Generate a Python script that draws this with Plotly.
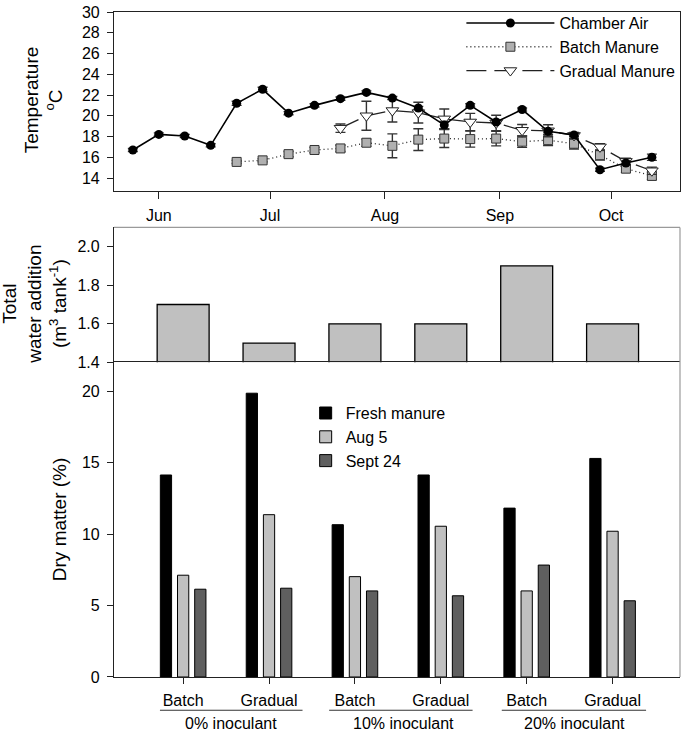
import plotly.graph_objects as go

# ---------------- data ----------------
chamber_dates = ["2009-05-25", "2009-06-01", "2009-06-08", "2009-06-15", "2009-06-22",
                 "2009-06-29", "2009-07-06", "2009-07-13", "2009-07-20", "2009-07-27",
                 "2009-08-03", "2009-08-10", "2009-08-17", "2009-08-24", "2009-08-31",
                 "2009-09-07", "2009-09-14", "2009-09-21", "2009-09-28", "2009-10-05",
                 "2009-10-12"]
chamber_air = [16.7, 18.2, 18.05, 17.15, 21.2, 22.55, 20.25, 21.0, 21.65, 22.25,
               21.7, 20.75, 19.1, 21.0, 19.4, 20.6, 18.5, 18.15, 14.8, 15.45, 16.0]
chamber_err = [0.15, 0.15, 0.15, 0.15, 0.2, 0.2, 0.15, 0.15, 0.15, 0.15,
               0.15, 0.15, 0.35, 0.15, 0.15, 0.15, 0.15, 0.15, 0.15, 0.2, 0.3]

batch_dates = ["2009-06-22", "2009-06-29", "2009-07-06", "2009-07-13", "2009-07-20",
               "2009-07-27", "2009-08-03", "2009-08-10", "2009-08-17", "2009-08-24",
               "2009-08-31", "2009-09-07", "2009-09-14", "2009-09-21", "2009-09-28",
               "2009-10-05", "2009-10-12"]
batch_manure = [15.55, 15.7, 16.3, 16.7, 16.85, 17.4, 17.1, 17.7, 17.8, 17.75,
                17.8, 17.5, 17.65, 17.3, 16.2, 14.9, 14.2]
batch_err = [0.15, 0.15, 0.25, 0.25, 0.3, 0.35, 1.15, 1.05, 0.86, 0.77,
             0.7, 0.55, 0.53, 0.5, 0.47, 0.36, 0.35]

gradual_dates = ["2009-07-20", "2009-07-27", "2009-08-03", "2009-08-10", "2009-08-17",
                 "2009-08-24", "2009-08-31", "2009-09-07", "2009-09-14", "2009-09-21",
                 "2009-09-28", "2009-10-05", "2009-10-12"]
gradual_manure = [18.8, 20.0, 20.5, 20.3, 19.7, 19.4, 19.3, 18.6, 18.55, 18.1,
                  17.0, 15.6, 14.7]
gradual_err = [0.4, 1.4, 1.1, 1.0, 0.95, 0.83, 0.75, 0.55, 0.58, 0.3, 0.3, 0.3, 0.35]

month_ticks = ["2009-06-01", "2009-07-01", "2009-08-01", "2009-09-01", "2009-10-01"]
month_labels = ["Jun", "Jul", "Aug", "Sep", "Oct"]

treatment_labels = ["Batch", "Gradual", "Batch", "Gradual", "Batch", "Gradual"]
treatment_pos = [0, 1, 2, 3, 4, 5]
inoculant_groups = ["0% inoculant", "10% inoculant", "20% inoculant"]

water_addition = [1.7, 1.5, 1.6, 1.6, 1.9, 1.6]

dm_fresh = [14.15, 19.88, 10.67, 14.15, 11.83, 15.31]
dm_aug5 = [7.13, 11.37, 7.03, 10.56, 6.03, 10.21]
dm_sept24 = [6.15, 6.22, 6.03, 5.69, 7.84, 5.34]

# ---------------- figure ----------------
FONT = "Arial, Liberation Sans, sans-serif"
DARK = "#222222"
W, H = 685, 731
ML, MR, MT, MB = 114, 4, 7, 54
PW, PH = W - ML - MR, H - MT - MB


def px_x(p):
    return (p - ML) / PW


def px_y(p):
    return (H - MB - p) / PH


fig = go.Figure()

fig.add_trace(go.Scatter(
    x=batch_dates, y=batch_manure, name="Batch Manure", legendrank=2,
    mode="lines+markers", xaxis="x", yaxis="y", legend="legend",
    line=dict(color=DARK, width=1.3, dash="1px,3px"),
    marker=dict(symbol="square", size=9, color="#b0b0b0", line=dict(color="#333333", width=1)),
    error_y=dict(type="data", array=batch_err, color="#333333", thickness=1.4, width=5),
))
fig.add_trace(go.Scatter(
    x=gradual_dates, y=gradual_manure, name="Gradual Manure", legendrank=3,
    mode="lines+markers", xaxis="x", yaxis="y", legend="legend",
    line=dict(color=DARK, width=1.3, dash="20px,8px"),
    marker=dict(symbol="triangle-down", size=11, color="white", line=dict(color="#222222", width=1)),
    error_y=dict(type="data", array=gradual_err, color="#333333", thickness=1.4, width=5),
))
fig.add_trace(go.Scatter(
    x=chamber_dates, y=chamber_air, name="Chamber Air", legendrank=1,
    mode="lines+markers", xaxis="x", yaxis="y", legend="legend",
    line=dict(color="black", width=1.6),
    marker=dict(symbol="circle", size=9, color="black"),
    error_y=dict(type="data", array=chamber_err, color="#333333", thickness=1.4, width=5),
))

fig.add_trace(go.Bar(
    x=treatment_pos, y=water_addition, xaxis="x2", yaxis="y2", showlegend=False,
    width=0.605, marker=dict(color="#c0c0c0", line=dict(color="black", width=1.3)),
))

bar_w = 0.131
for vals, name, col, off in [(dm_fresh, "Fresh manure", "black", -0.2),
                             (dm_aug5, "Aug 5", "#c0c0c0", 0.0),
                             (dm_sept24, "Sept 24", "#5f5f5f", 0.2)]:
    fig.add_trace(go.Bar(
        x=treatment_pos, y=vals, name=name, xaxis="x3", yaxis="y3", legend="legend2",
        width=bar_w, offset=off - bar_w / 2,
        marker=dict(color=col, line=dict(color="black", width=1)),
    ))

tick_font = dict(family=FONT, size=16, color="black")
common = dict(showgrid=False, zeroline=False, linecolor=DARK, linewidth=1.2,
              tickcolor=DARK, tickwidth=1.2, tickfont=tick_font, ticklabeloverflow="allow")

cat_range = [-0.805, 5.785]
fig.update_layout(
    width=W, height=H,
    margin=dict(l=ML, r=MR, t=MT, b=MB, pad=0),
    paper_bgcolor="white", plot_bgcolor="white",
    font=dict(family=FONT, size=16, color="black"),
    barmode="overlay",
    xaxis=dict(domain=[0, 1], anchor="y", type="date",
               range=["2009-05-19 22:00", "2009-10-19 14:00"],
               tickmode="array", tickvals=month_ticks, ticktext=month_labels,
               ticks="outside", ticklen=7, showline=True, mirror=True,
               ticklabelstandoff=3, **common),
    yaxis=dict(domain=[px_y(187), 1], anchor="x", range=[12.78, 30],
               tickmode="array", tickvals=list(range(14, 31, 2)),
               ticks="outside", ticklen=6, showline=True, mirror=True,
               ticklabelstandoff=4, **common),
    xaxis2=dict(domain=[0, 1], anchor="y2", range=cat_range,
                showticklabels=False, ticks="", showline=False,
                showgrid=False, zeroline=False),
    yaxis2=dict(domain=[px_y(360), px_y(224)], anchor="x2", range=[1.4, 2.1],
                tickmode="array", tickvals=[1.4, 1.6, 1.8, 2.0], tickformat=".1f",
                ticks="outside", ticklen=6, showline=True,
                ticklabelstandoff=4, **common),
    xaxis3=dict(domain=[0, 1], anchor="y3", range=cat_range,
                tickmode="array", tickvals=treatment_pos, ticktext=treatment_labels,
                ticks="outside", ticklen=6, showline=True, mirror=True,
                ticklabelstandoff=3, **common),
    yaxis3=dict(domain=[0, px_y(360)], anchor="x3", range=[0, 22.04],
                tickmode="array", tickvals=[0, 5, 10, 15, 20],
                ticks="outside", ticklen=6, showline=True,
                ticklabelstandoff=4, **common),
    legend=dict(x=px_x(462), y=px_y(1), xanchor="left", yanchor="top",
                bgcolor="rgba(0,0,0,0)", font=dict(family=FONT, size=16),
                itemwidth=88, tracegroupgap=0, traceorder="normal"),
    legend2=dict(x=px_x(306), y=px_y(394), xanchor="left", yanchor="top",
                 bgcolor="rgba(0,0,0,0)", font=dict(family=FONT, size=16),
                 traceorder="normal"),
)

shapes = [
    # gray top/right border of middle panel, gray right border of bottom panel
    dict(type="line", xref="paper", yref="paper", x0=0, x1=1, y0=px_y(224), y1=px_y(224),
         line=dict(color="#9a9a9a", width=1.2)),
    dict(type="line", xref="paper", yref="paper", x0=1, x1=1, y0=0, y1=px_y(224),
         line=dict(color="#9a9a9a", width=1.2)),
]
underlines = [(-0.27, 1.39), (1.70, 3.37), (3.71, 5.39)]
for x0, x1 in underlines:
    shapes.append(dict(type="line", xref="x3", yref="paper", x0=x0, x1=x1,
                       y0=px_y(710.5), y1=px_y(710.5), line=dict(color="#333333", width=1.2)))
fig.update_layout(shapes=shapes)

annotations = []
for i, g in enumerate(inoculant_groups):
    annotations.append(dict(text=g, xref="x3", yref="paper", x=2 * i + 0.56, y=px_y(723.5),
                            xanchor="center", yanchor="middle", showarrow=False,
                            font=dict(family=FONT, size=16, color="black")))
title_font = dict(family=FONT, size=19, color="black")
annotations += [
    dict(text="Temperature<br><sup>o</sup>C", xref="paper", yref="paper", x=0, xshift=44 - ML,
         y=px_y(96), textangle=-90, xanchor="center", yanchor="middle", showarrow=False,
         font=title_font),
    dict(text="Total<br>water addition<br>(m<sup>3</sup> tank<sup>-1</sup>)", xref="paper",
         yref="paper", x=0, xshift=34 - ML, y=px_y(302), textangle=-90,
         xanchor="center", yanchor="middle", showarrow=False, font=title_font),
    dict(text="Dry matter (%)", xref="paper", yref="paper", x=0, xshift=59 - ML,
         y=px_y(518), textangle=-90, xanchor="center", yanchor="middle", showarrow=False,
         font=title_font),
]
fig.update_layout(annotations=annotations)

fig.write_html("out.html", config={"displayModeBar": False},
               post_script="document.body.style.margin='0';document.body.style.overflow='hidden';")
